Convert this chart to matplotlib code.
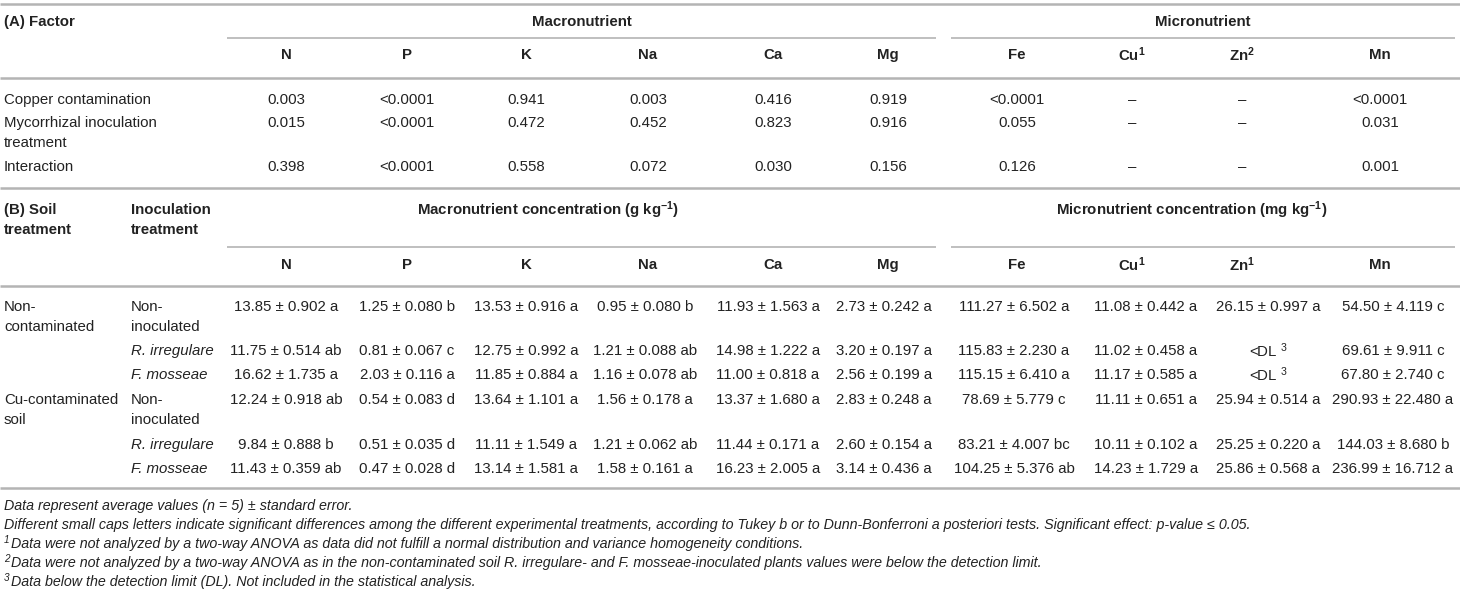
import matplotlib
matplotlib.use("Agg")
from matplotlib import pyplot as plt

plt.rcParams["font.family"] = ["Liberation Sans", "DejaVu Sans"]
plt.rcParams["mathtext.fontset"] = "custom"
plt.rcParams["mathtext.rm"] = "Liberation Sans"
plt.rcParams["mathtext.it"] = "Liberation Sans:italic"
plt.rcParams["mathtext.bf"] = "Liberation Sans:bold"

# (A) two-way ANOVA p-values
factors = ["Copper contamination", "Mycorrhizal inoculation\ntreatment", "Interaction"]
heads_a = ["N", "P", "K", "Na", "Ca", "Mg", "Fe", r"Cu$^{\mathbf{1}}$", r"Zn$^{\mathbf{2}}$", "Mn"]
pvals = [
    ["0.003", "<0.0001", "0.941", "0.003", "0.416", "0.919", "<0.0001", "–", "–", "<0.0001"],
    ["0.015", "<0.0001", "0.472", "0.452", "0.823", "0.916", "0.055", "–", "–", "0.031"],
    ["0.398", "<0.0001", "0.558", "0.072", "0.030", "0.156", "0.126", "–", "–", "0.001"],
]

# (B) nutrient concentrations, mean +- SE and letters
soils = ["Non-\ncontaminated", "Cu-contaminated\nsoil"]
inocs = ["Non-\ninoculated", "R. irregulare", "F. mosseae"]
heads_b = ["N", "P", "K", "Na", "Ca", "Mg", "Fe", r"Cu$^{\mathbf{1}}$", r"Zn$^{\mathbf{1}}$", "Mn"]
means = [
    [13.85, 1.25, 13.53, 0.95, 11.93, 2.73, 111.27, 11.08, 26.15, 54.50],
    [11.75, 0.81, 12.75, 1.21, 14.98, 3.20, 115.83, 11.02, None, 69.61],
    [16.62, 2.03, 11.85, 1.16, 11.00, 2.56, 115.15, 11.17, None, 67.80],
    [12.24, 0.54, 13.64, 1.56, 13.37, 2.83, 78.69, 11.11, 25.94, 290.93],
    [9.84, 0.51, 11.11, 1.21, 11.44, 2.60, 83.21, 10.11, 25.25, 144.03],
    [11.43, 0.47, 13.14, 1.58, 16.23, 3.14, 104.25, 14.23, 25.86, 236.99],
]
ses = [
    [0.902, 0.080, 0.916, 0.080, 1.563, 0.242, 6.502, 0.442, 0.997, 4.119],
    [0.514, 0.067, 0.992, 0.088, 1.222, 0.197, 2.230, 0.458, None, 9.911],
    [1.735, 0.116, 0.884, 0.078, 0.818, 0.199, 6.410, 0.585, None, 2.740],
    [0.918, 0.083, 1.101, 0.178, 1.680, 0.248, 5.779, 0.651, 0.514, 22.480],
    [0.888, 0.035, 1.549, 0.062, 0.171, 0.154, 4.007, 0.102, 0.220, 8.680],
    [0.359, 0.028, 1.581, 0.161, 2.005, 0.436, 5.376, 1.729, 0.568, 16.712],
]
letters = [
    ["a", "b", "a", "b", "a", "a", "a", "a", "a", "c"],
    ["ab", "c", "a", "ab", "a", "a", "a", "a", None, "c"],
    ["a", "a", "a", "ab", "a", "a", "a", "a", None, "c"],
    ["ab", "d", "a", "a", "a", "a", "c", "a", "a", "a"],
    ["b", "d", "a", "ab", "a", "a", "bc", "a", "a", "b"],
    ["ab", "d", "a", "a", "a", "a", "ab", "a", "a", "a"],
]

note_marks = ["", "", "1", "2", "3"]
notes = [
    "Data represent average values (n = 5) ± standard error.",
    "Different small caps letters indicate significant differences among the different experimental treatments, "
    "according to Tukey b or to Dunn-Bonferroni a posteriori tests. Significant effect: p-value ≤ 0.05.",
    "Data were not analyzed by a two-way ANOVA as data did not fulfill a normal distribution and variance homogeneity conditions.",
    "Data were not analyzed by a two-way ANOVA as in the non-contaminated soil R. irregulare- and F. mosseae-inoculated plants values were below the detection limit.",
    "Data below the detection limit (DL). Not included in the statistical analysis.",
]

head_x = [286, 407, 526, 648, 773, 888, 1017, 1132, 1242, 1380]
val_x = [286, 407, 526, 645, 768, 884, 1014, 1146, 1268, 1393]
fs = 10.8
fs_note = 10.3
tc = "#222222"
rule = "#b4b4b4"

fig = plt.figure(figsize=(14.6, 5.98), dpi=100)
ax = fig.add_axes([0, 0, 1, 1])
ax.set_xlim(0, 1460)
ax.set_ylim(598, 0)
ax.axis("off")


def hline(y, x0=0, x1=1460, lw=1.8):
    ax.plot([x0, x1], [y, y], color=rule, lw=lw, solid_capstyle="butt")


def txt(x, y, s, ha="left", size=fs, **kw):
    ax.text(x, y, s, ha=ha, va="center", fontsize=size, color=tc, **kw)


def cell(x, y, s, **kw):
    # multi-line cell, 20 px between lines
    for k, part in enumerate(s.split("\n")):
        txt(x, y + 20 * k, part, **kw)


# ---- part A ----
hline(4)
txt(4, 22, "(A) Factor", fontweight="bold")
txt(582, 22, "Macronutrient", ha="center", fontweight="bold")
txt(1203, 22, "Micronutrient", ha="center", fontweight="bold")
hline(38, 227, 936, lw=1.2)
hline(38, 951, 1455, lw=1.2)
for x, h in zip(head_x, heads_a):
    txt(x, 55, h, ha="center", fontweight="bold")
hline(78)
row_y_a = [100, 123, 167]
for y, f, row in zip(row_y_a, factors, pvals):
    cell(4, y, f)
    for x, v in zip(head_x, row):
        txt(x, y, v, ha="center")
hline(188)

# ---- part B ----
cell(4, 210, "(B) Soil\ntreatment", fontweight="bold")
cell(131, 210, "Inoculation\ntreatment", fontweight="bold")
txt(548, 210, r"Macronutrient concentration (g kg$^{\mathbf{-1}}$)", ha="center", fontweight="bold")
txt(1192, 210, r"Micronutrient concentration (mg kg$^{\mathbf{-1}}$)", ha="center", fontweight="bold")
hline(247, 227, 936, lw=1.2)
hline(247, 951, 1455, lw=1.2)
for x, h in zip(head_x, heads_b):
    txt(x, 265, h, ha="center", fontweight="bold")
hline(286)

row_y_b = [307, 351, 375, 400, 445, 469]
for i, y in enumerate(row_y_b):
    if i % 3 == 0:
        cell(4, y, soils[i // 3])
    style = "normal" if i % 3 == 0 else "italic"
    cell(131, y, inocs[i % 3], style=style)
    for j, x in enumerate(val_x):
        m = means[i][j]
        if m is None:
            s = r"<DL $^3$"
        else:
            s = f"{m:.2f} ± {ses[i][j]:.3f} {letters[i][j]}"
        txt(x, y, s, ha="center")
hline(488)

# ---- footnotes ----
for k, (mk, n) in enumerate(zip(note_marks, notes)):
    y = 506 + k * 19
    x0 = 4
    if mk:
        txt(4, y - 4, mk, size=7.2, style="italic")
        x0 = 11
    txt(x0, y, n, size=fs_note, style="italic")

fig.savefig("out.png", dpi=100)
